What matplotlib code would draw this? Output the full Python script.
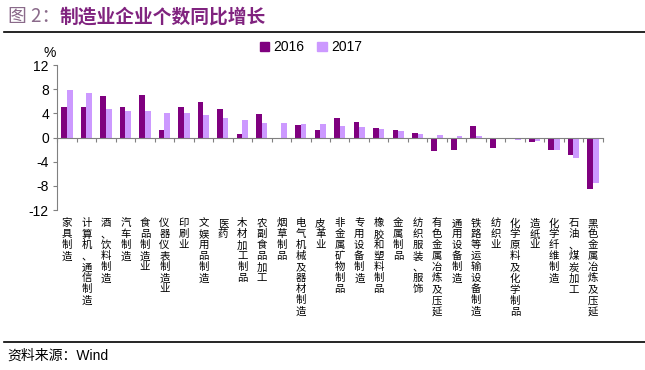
import numpy as np
import matplotlib.pyplot as plt
from matplotlib.lines import Line2D
from matplotlib.patches import Patch

plt.rcParams['font.family'] = ['Liberation Sans', 'Noto Sans CJK SC', 'DejaVu Sans']

# ---------------------------------------------------------------------------
# Datos
# ---------------------------------------------------------------------------
categories = [
    "家具制造", "计算机、通信制造", "酒、饮料制造", "汽车制造", "食品制造业",
    "仪器仪表制造业", "印刷业", "文娱用品制造", "医药", "木材加工制品",
    "农副食品加工", "烟草制品", "电气机械及器材制造", "皮革业", "非金属矿物制品",
    "专用设备制造", "橡胶和塑料制品", "金属制品", "纺织服装、服饰", "有色金属冶炼及压延",
    "通用设备制造", "铁路等运输设备制造", "纺织业", "化学原料及化学制品", "造纸业",
    "化学纤维制造", "石油、煤炭加工", "黑色金属冶炼及压延",
]
y2016 = [5.1, 5.1, 6.8, 5.1, 7.0, 1.3, 5.0, 5.9, 4.7, 0.6,
         3.9, 0.0, 2.1, 1.3, 3.3, 2.6, 1.5, 1.3, 0.8, -2.2,
         -2.1, 1.9, -1.8, -0.2, -0.8, -2.1, -2.9, -8.6]
y2017 = [7.8, 7.3, 4.7, 4.4, 4.4, 4.1, 4.1, 3.7, 3.3, 2.9,
         2.4, 2.4, 2.2, 2.2, 1.9, 1.7, 1.4, 1.0, 0.55, 0.4,
         0.2, 0.2, -0.2, -0.4, -0.6, -2.1, -3.4, -7.6]
yticks = [12, 8, 4, 0, -4, -8, -12]

C16 = "#7f007f"
C17 = "#cc99ff"
PURPLE = "#80237f"

# ---------------------------------------------------------------------------
# Figura
# ---------------------------------------------------------------------------
fig = plt.figure(figsize=(6.45, 3.7), dpi=100)
ax = fig.add_axes([0.0888, 0.4324, 0.8456, 0.3919])

x = np.arange(len(categories))
w = 0.29
ax.bar(x - w / 2, y2016, width=w, color=C16, zorder=2)
ax.bar(x + w / 2, y2017, width=w, color=C17, zorder=2)

ax.set_xlim(-0.5, len(categories) - 0.5)
ax.set_ylim(-12, 12)
ax.set_yticks(yticks)
ax.set_yticklabels([str(t) for t in yticks], fontsize=10)
ax.set_xticks(np.arange(len(categories) + 1) - 0.5)
ax.set_xticklabels([])

for s in ["top", "right"]:
    ax.spines[s].set_visible(False)
ax.spines["bottom"].set_position(("data", 0))
ax.spines["bottom"].set_color("#808080")
ax.spines["left"].set_color("#808080")
ax.tick_params(axis="x", length=3, color="#808080", direction="out")
ax.tick_params(axis="y", length=3, color="#808080", pad=3)

trans = ax.get_xaxis_transform()
for i, c in enumerate(categories):
    ax.annotate("\n".join(c), xy=(i, 0), xycoords=trans,
                xytext=(0, -6), textcoords="offset points",
                ha="center", va="top", fontsize=7.5, linespacing=1.12,
                family=["Noto Sans CJK SC"])

fig.text(0.077, 0.858, "%", fontsize=10, ha="center", va="center")

handles = [Patch(color=C16, label="2016"), Patch(color=C17, label="2017")]
fig.legend(handles=handles, loc="center", bbox_to_anchor=(0.482, 0.872), ncol=2,
           frameon=False, fontsize=10, handlelength=0.7, handleheight=0.7,
           handletextpad=0.3, columnspacing=0.9)

# Título y fuente
fig.text(0.012, 0.955, "图 2：", fontsize=13.5, color="#8a6a8a",
         va="center", ha="left", family=["Noto Sans CJK SC"])
fig.text(0.093, 0.955, "制造业企业个数同比增长", fontsize=13.5,
         fontweight="bold", color=PURPLE, va="center", ha="left",
         family=["Noto Sans CJK SC"])
fig.add_artist(Line2D([0.006, 1.0], [0.913, 0.913], color="black", lw=1.2))
fig.add_artist(Line2D([0.006, 1.0], [0.076, 0.076], color="black", lw=1.2))
fig.text(0.012, 0.04, "资料来源：Wind", fontsize=10, va="center", ha="left")

plt.savefig("out.png", dpi=100)
